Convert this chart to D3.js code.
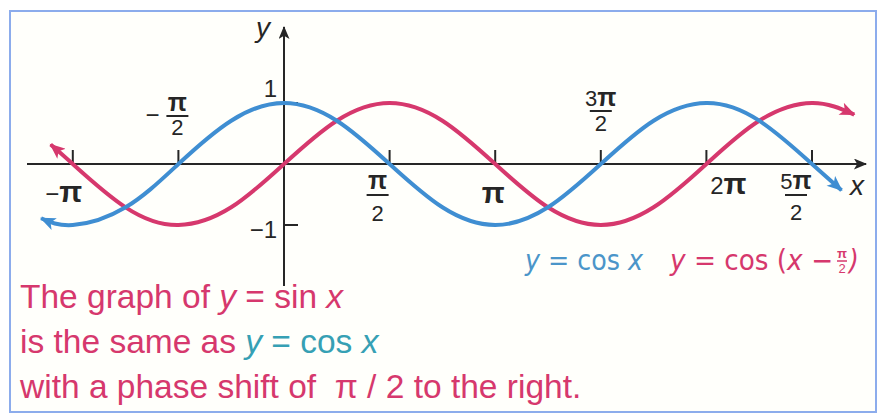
<!DOCTYPE html>
<html>
<head>
<meta charset="utf-8">
<script src="https://cdn.jsdelivr.net/npm/d3@7/dist/d3.min.js"></script>
<style>
  body { margin: 0; background: #fff; }
  svg { display: block; }
  text { white-space: pre; }
</style>
</head>
<body>
<div id="chart"></div>
<script>
// x values are in units of π
const tickValues = [-1, -0.5, 0.5, 1, 1.5, 2, 2.5];
const tickLabels = ["−π", "−π/2", "π/2", "π", "3π/2", "2π", "5π/2"];
const yTickValues = [-1, 1];
const yTickLabels = ["−1", "1"];

// y = cos x (blue)
const cosX = [-1.15, -1, -0.75, -0.5, -0.25, 0, 0.25, 0.5, 0.75, 1, 1.25, 1.5, 1.75, 2, 2.25, 2.5, 2.64];
const cosY = [-0.89, -1, -0.71, 0, 0.71, 1, 0.71, 0, -0.71, -1, -0.71, 0, 0.71, 1, 0.71, 0, -0.43];
// y = cos(x - π/2) (red)
const sinX = [-1.105, -1, -0.75, -0.5, -0.25, 0, 0.25, 0.5, 0.75, 1, 1.25, 1.5, 1.75, 2, 2.25, 2.5, 2.7];
const sinY = [0.32, 0, -0.71, -1, -0.71, 0, 0.71, 1, 0.71, 0, -0.71, -1, -0.71, 0, 0.71, 1, 0.81];

const width = 879, height = 415;
const blue = "#3f8ed2", red = "#d6386d", teal = "#36a0b4", ink = "#262626";

const svg = d3.select("#chart").append("svg")
  .attr("width", width)
  .attr("height", height);

svg.append("rect")
  .attr("x", 10).attr("y", 11)
  .attr("width", 866).attr("height", 401)
  .attr("fill", "#fffffb")
  .attr("stroke", "#8cacec")
  .attr("stroke-width", 2);

const x = d3.scaleLinear().domain([0, 1]).range([284, 495.2]);
const y = d3.scaleLinear().domain([-1, 1]).range([225, 103]);
const y0 = y(0), x0 = x(0);

// arrow markers
const defs = svg.append("defs");
function marker(id, color, w, h) {
  defs.append("marker")
    .attr("id", id)
    .attr("viewBox", "0 0 12 10")
    .attr("refX", 11).attr("refY", 5)
    .attr("markerUnits", "userSpaceOnUse")
    .attr("markerWidth", w).attr("markerHeight", h)
    .attr("orient", "auto-start-reverse")
    .append("path")
    .attr("d", "M0,0 L12,5 L0,10 L3,5 Z")
    .attr("fill", color);
}
marker("arr-blue", blue, 17, 13);
marker("arr-red", red, 17, 13);
marker("arr-axis", ink, 20, 11);

// axes
svg.append("line")
  .attr("x1", 27).attr("x2", 866)
  .attr("y1", y0).attr("y2", y0)
  .attr("stroke", ink).attr("stroke-width", 2)
  .attr("marker-end", "url(#arr-axis)");
svg.append("line")
  .attr("x1", x0).attr("x2", x0)
  .attr("y1", 286).attr("y2", 27)
  .attr("stroke", ink).attr("stroke-width", 2)
  .attr("marker-end", "url(#arr-axis)");

svg.selectAll(".xtick").data(tickValues).enter().append("line")
  .attr("x1", d => x(d)).attr("x2", d => x(d))
  .attr("y1", y0).attr("y2", y0 - 14)
  .attr("stroke", ink).attr("stroke-width", 2);

svg.selectAll(".ytick").data(yTickValues).enter().append("line")
  .attr("x1", x0).attr("x2", x0 + 14)
  .attr("y1", d => y(d)).attr("y2", d => y(d))
  .attr("stroke", ink).attr("stroke-width", 2);

// curves
const line = d3.line().curve(d3.curveNatural);
svg.append("path")
  .attr("d", line(sinX.map((v, i) => [x(v), y(sinY[i])])))
  .attr("fill", "none").attr("stroke", red).attr("stroke-width", 4)
  .attr("marker-start", "url(#arr-red)").attr("marker-end", "url(#arr-red)");
svg.append("path")
  .attr("d", line(cosX.map((v, i) => [x(v), y(cosY[i])])))
  .attr("fill", "none").attr("stroke", blue).attr("stroke-width", 4)
  .attr("marker-start", "url(#arr-blue)").attr("marker-end", "url(#arr-blue)");

// tick labels
const font = "'Liberation Sans', Arial, sans-serif";
// per label layout: dx from tick, baseline (or numerator / bar / denominator for fractions)
const layout = [
  { dx: -9, base: 202 },
  { dx: -1, frac: true, num: 111, bar: 116, den: 135 },
  { dx: -12, frac: true, num: 189, bar: 195, den: 221 },
  { dx: -2, base: 203 },
  { dx: 0, frac: true, num: 106, bar: 111, den: 131 },
  { dx: 22, base: 194 },
  { dx: -16, frac: true, num: 189, bar: 195, den: 220 }
];

function addPi(t, str, piSize) {
  str.split(/(π)/).filter(s => s).forEach(s => {
    const ts = t.append("tspan").text(s);
    if (s === "π") ts.attr("font-size", piSize).attr("font-weight", "bold");
  });
}

const labels = svg.append("g");
tickLabels.forEach((lab, i) => {
  const L = layout[i];
  const cx = x(tickValues[i]) + L.dx;
  if (!L.frac) {
    const t = labels.append("text")
      .attr("x", cx).attr("y", L.base)
      .attr("text-anchor", "middle")
      .attr("font-family", font).attr("font-size", 24)
      .attr("fill", ink);
    addPi(t, lab, 30);
    return;
  }
  let [num, den] = lab.split("/");
  let neg = false;
  if (num.startsWith("−")) { neg = true; num = num.slice(1); }
  // numerator and denominator in one text element
  const t = labels.append("text")
    .attr("x", cx).attr("y", L.num)
    .attr("text-anchor", "middle")
    .attr("font-family", font).attr("font-size", 22)
    .attr("fill", ink);
  addPi(t, num, 25);
  t.append("tspan").attr("x", cx).attr("y", L.den).text(den);
  labels.append("line")
    .attr("x1", cx - 11).attr("x2", cx + 11)
    .attr("y1", L.bar).attr("y2", L.bar)
    .attr("stroke", ink).attr("stroke-width", 2);
  if (neg) {
    labels.append("text")
      .attr("x", cx - 18).attr("y", L.bar + 7)
      .attr("text-anchor", "end")
      .attr("font-family", font).attr("font-size", 24)
      .attr("fill", ink).text("−");
  }
});

labels.selectAll(".ylab").data(yTickLabels).enter().append("text")
  .attr("x", x0 - 7)
  .attr("y", (d, i) => i === 0 ? 238 : 97)
  .attr("text-anchor", "end")
  .attr("font-family", font).attr("font-size", 24)
  .attr("fill", ink)
  .text(d => d);

labels.append("text")
  .attr("x", x0 - 14).attr("y", 37)
  .attr("text-anchor", "end")
  .attr("font-family", font).attr("font-size", 28).attr("font-style", "italic")
  .attr("fill", ink).text("y");
labels.append("text")
  .attr("x", 850).attr("y", 195)
  .attr("font-family", font).attr("font-size", 28).attr("font-style", "italic")
  .attr("fill", ink).text("x");

// legend (condensed)
const narrow = "'Liberation Sans Narrow', 'DejaVu Sans Condensed', sans-serif";
function pieces(t, parts, color) {
  parts.forEach(([s, it]) => {
    const ts = t.append("tspan").text(s).attr("fill", color);
    if (it) ts.attr("font-style", "italic");
  });
}
const lg1 = svg.append("text")
  .attr("x", 525).attr("y", 270)
  .attr("font-family", narrow).attr("font-size", 28)
  .attr("textLength", 118).attr("lengthAdjust", "spacingAndGlyphs");
pieces(lg1, [["y", 1], [" = cos ", 0], ["x", 1]], "#4b95c9");

const lg2 = svg.append("text")
  .attr("x", 670).attr("y", 270)
  .attr("font-family", narrow).attr("font-size", 28)
  .attr("textLength", 163).attr("lengthAdjust", "spacingAndGlyphs");
pieces(lg2, [["y", 1], [" = cos (", 0], ["x", 1], [" −", 0]], red);
const lf = svg.append("text")
  .attr("x", 842).attr("y", 258).attr("text-anchor", "middle")
  .attr("font-family", font).attr("font-size", 13)
  .attr("fill", red);
lf.append("tspan").attr("font-weight", "bold").text("π");
lf.append("tspan").attr("x", 842).attr("y", 273).text("2");
svg.append("line")
  .attr("x1", 837).attr("x2", 847).attr("y1", 261).attr("y2", 261)
  .attr("stroke", red).attr("stroke-width", 1.5);
svg.append("text")
  .attr("x", 849).attr("y", 270)
  .attr("font-family", narrow).attr("font-size", 28).attr("font-style", "italic")
  .attr("fill", red).text(")");

// caption
const cap = [
  { base: 308, parts: [["The graph of ", 0, red], ["y", 1, red], [" = sin ", 0, red], ["x", 1, red]] },
  { base: 353, parts: [["is the same as ", 0, red], ["y", 1, teal], [" = cos ", 0, teal], ["x", 1, teal]] },
  { base: 398, parts: [["with a phase shift of  π / 2 to the right.", 0, red]] }
];
cap.forEach(c => {
  const t = svg.append("text")
    .attr("x", 20).attr("y", c.base)
    .attr("font-family", font).attr("font-size", 33.5);
  c.parts.forEach(([s, it, col]) => {
    const ts = t.append("tspan").text(s).attr("fill", col);
    if (it) ts.attr("font-style", "italic");
  });
});
</script>
</body>
</html>
